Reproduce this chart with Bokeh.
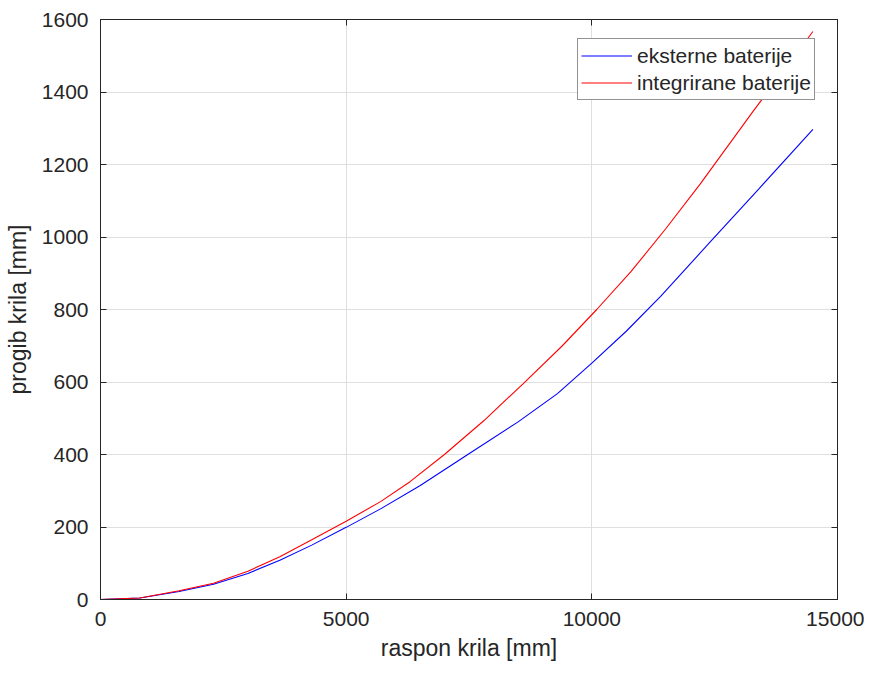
from bokeh.plotting import figure
from bokeh.models import LinearAxis, Range1d, FixedTicker, Legend, LegendItem, CustomJSTickFormatter
from bokeh.embed import file_html
from bokeh.resources import INLINE

# Data
span_ext = [0, 800, 1600, 2300, 3000, 3650, 4300, 5000, 5700, 6500, 7476, 8500,
            9300, 10000, 10700, 11400, 12400, 13400, 14500]
defl_ext = [0, 4, 22, 42, 72, 108, 150, 199, 250, 314, 400, 490,
            568, 652, 740, 836, 985, 1133, 1297]

span_int = [0, 800, 1600, 2300, 3000, 3650, 4300, 5000, 5700, 6300, 7000, 7800,
            8600, 9400, 10100, 10800, 11500, 12200, 13300, 14500]
defl_int = [0, 4, 24, 45, 78, 118, 165, 216, 270, 325, 400, 493,
            595, 700, 800, 905, 1022, 1145, 1350, 1567]

x_ticks = [0, 5000, 10000, 15000]
y_ticks = [0, 200, 400, 600, 800, 1000, 1200, 1400, 1600]

label_ext = "eksterne baterije"
label_int = "integrirane baterije"
x_label = "raspon krila [mm]"
y_label = "progib krila [mm]"

FONT = "Liberation Sans"
AX = "#262626"

p = figure(width=864, height=665, output_backend="svg", toolbar_location=None,
           x_range=Range1d(0, 15000), y_range=Range1d(0, 1600),
           min_border_left=100, min_border_right=27, min_border_top=19, min_border_bottom=66)
p.outline_line_color = AX
p.outline_line_width = 1
p.background_fill_color = "white"
p.border_fill_color = "white"

for ax, ticks in ((p.xaxis[0], x_ticks), (p.yaxis[0], y_ticks)):
    ax.ticker = FixedTicker(ticks=ticks)
    ax.axis_line_color = AX
    ax.major_tick_line_color = AX
    ax.major_tick_in = 6
    ax.major_tick_out = 0
    ax.minor_tick_line_color = None
    ax.major_label_text_font = FONT
    ax.major_label_text_font_size = "21px"
    ax.major_label_text_color = AX
    ax.axis_label_text_font = FONT
    ax.axis_label_text_font_size = "23px"
    ax.axis_label_text_font_style = "normal"
    ax.axis_label_text_color = AX

p.xaxis[0].axis_label = x_label
p.yaxis[0].axis_label = y_label
p.xaxis[0].major_label_standoff = 12
p.yaxis[0].major_label_standoff = 12
p.xaxis[0].axis_label_standoff = 6
p.yaxis[0].axis_label_standoff = 8

# mirrored axes for the MATLAB-style box ticks (no labels)
blank = CustomJSTickFormatter(code="return ''")
top = LinearAxis(ticker=FixedTicker(ticks=x_ticks), formatter=blank,
                 major_tick_in=6, major_tick_out=0, minor_tick_line_color=None,
                 axis_line_color=AX, major_tick_line_color=AX,
                 major_label_standoff=0, major_label_text_font_size="1px")
right = LinearAxis(ticker=FixedTicker(ticks=y_ticks), formatter=blank,
                   major_tick_in=6, major_tick_out=0, minor_tick_line_color=None,
                   axis_line_color=AX, major_tick_line_color=AX,
                   major_label_standoff=0, major_label_text_font_size="1px")
p.add_layout(top, "above")
p.add_layout(right, "right")

p.xgrid.ticker = FixedTicker(ticks=x_ticks)
p.ygrid.ticker = FixedTicker(ticks=y_ticks)
p.xgrid.grid_line_color = "#dfdfdf"
p.ygrid.grid_line_color = "#dfdfdf"

r1 = p.line(span_ext, defl_ext, line_color="#0000ff", line_width=1.1)
r2 = p.line(span_int, defl_int, line_color="#ff0000", line_width=1.1)

legend = Legend(items=[LegendItem(label=label_ext, renderers=[r1]),
                       LegendItem(label=label_int, renderers=[r2])],
                location=(477, 499))
legend.label_text_font = FONT
legend.label_text_font_size = "21px"
legend.label_text_color = AX
legend.glyph_width = 51
legend.glyph_height = 27
legend.label_height = 27
legend.label_standoff = 5
legend.padding = 3
legend.spacing = 0
legend.margin = 0
legend.border_line_color = AX
legend.border_line_width = 1
legend.background_fill_alpha = 1
p.add_layout(legend, "center")

open("out.html", "w").write(file_html(p, INLINE))
